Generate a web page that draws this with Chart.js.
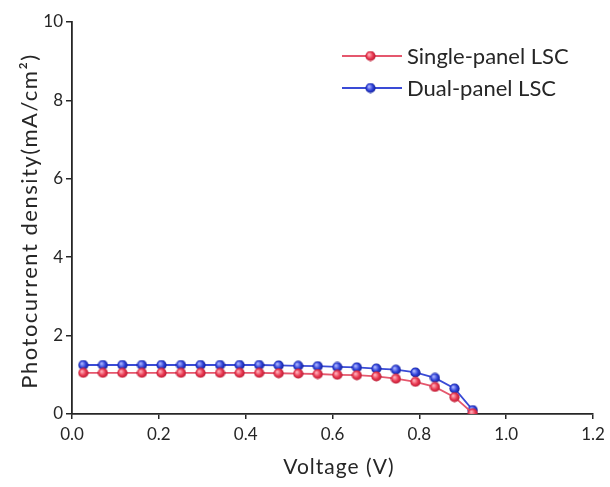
<!DOCTYPE html>
<html>
<head>
<meta charset="utf-8">
<script src="https://cdn.jsdelivr.net/npm/chart.js@4"></script>
<style>
  html, body { margin: 0; padding: 0; background: #fff; }
  #wrap { width: 610px; height: 487px; }
</style>
</head>
<body>
<div id="wrap"><canvas id="jvChart" width="610" height="487"></canvas></div>
<script>
// values
const voltage = [0.026, 0.071, 0.116, 0.161, 0.206, 0.251, 0.296, 0.341, 0.386, 0.431, 0.476,
  0.521, 0.566, 0.611, 0.656, 0.701, 0.746, 0.791, 0.836, 0.881, 0.923];
const singlePanel = [1.05, 1.05, 1.05, 1.05, 1.05, 1.05, 1.05, 1.05, 1.05, 1.05, 1.04,
  1.03, 1.02, 1.00, 0.99, 0.96, 0.90, 0.82, 0.69, 0.43, 0.02];
const dualPanel = [1.25, 1.25, 1.25, 1.25, 1.25, 1.25, 1.25, 1.25, 1.25, 1.25, 1.24,
  1.23, 1.22, 1.20, 1.19, 1.16, 1.13, 1.06, 0.92, 0.65, 0.10];
const seriesNames = ['Single-panel LSC', 'Dual-panel LSC'];
const xTicks = [0.0, 0.2, 0.4, 0.6, 0.8, 1.0, 1.2];
const yTicks = [0, 2, 4, 6, 8, 10];
const xTitle = 'Voltage (V)';
const yTitle = 'Photocurrent density(mA/cm²)';

const FONT = 'Lato, "Open Sans", sans-serif';
const INK = '#262626';
const RED = '#e5576d';
const BLUE = '#3a4bd6';

// little shaded balls for the markers
function ball(base, light, dark) {
  const c = document.createElement('canvas');
  c.width = 11; c.height = 11;
  const g = c.getContext('2d');
  const grad = g.createRadialGradient(4, 4, 0.5, 5.5, 5.5, 5.5);
  grad.addColorStop(0, light);
  grad.addColorStop(0.55, base);
  grad.addColorStop(1, dark);
  g.fillStyle = grad;
  g.beginPath();
  g.arc(5.5, 5.5, 5.1, 0, Math.PI * 2);
  g.fill();
  return c;
}
const redBall = ball('#e8364f', '#ffb0ba', '#b01830');
const blueBall = ball('#2d3fd6', '#a8b2ff', '#101e90');

function pts(xs, ys) {
  return xs.map((x, i) => ({ x: x, y: ys[i] }));
}

// legend and axis titles drawn by hand (the titles are spaced a bit wider)
const extras = {
  id: 'extras',
  afterDraw(chart) {
    const c = chart.ctx;
    const rows = [
      { text: seriesNames[0], color: RED, img: redBall, y: 56 },
      { text: seriesNames[1], color: BLUE, img: blueBall, y: 88 }
    ];
    c.save();
    c.font = '22px ' + FONT;
    c.textBaseline = 'middle';
    c.fillStyle = INK;
    rows.forEach(r => {
      c.strokeStyle = r.color;
      c.lineWidth = 1.8;
      c.beginPath();
      c.moveTo(342, r.y);
      c.lineTo(402, r.y);
      c.stroke();
      c.drawImage(r.img, 365, r.y - 5.5);
      c.fillText(r.text, 407, r.y + 1);
    });

    const area = chart.chartArea;
    c.textAlign = 'center';
    c.font = '21px ' + FONT;
    c.letterSpacing = '1px';
    c.fillText(xTitle, 339, 467);

    c.font = '22px ' + FONT;
    c.letterSpacing = '1.5px';
    c.translate(30, (area.top + area.bottom) / 2 + 3);
    c.rotate(-Math.PI / 2);
    c.fillText(yTitle, 0, 0);
    c.restore();
  }
};

new Chart(document.getElementById('jvChart'), {
  type: 'scatter',
  data: {
    datasets: [
      {
        label: seriesNames[0],
        data: pts(voltage, singlePanel),
        showLine: true,
        borderColor: RED,
        borderWidth: 1.8,
        pointStyle: redBall,
        pointRadius: 5.5
      },
      {
        label: seriesNames[1],
        data: pts(voltage, dualPanel),
        showLine: true,
        borderColor: BLUE,
        borderWidth: 1.8,
        pointStyle: blueBall,
        pointRadius: 5.5
      }
    ]
  },
  options: {
    responsive: false,
    animation: false,
    layout: { padding: { left: 0, right: 17, top: 22, bottom: 0 } },
    plugins: {
      legend: { display: false },
      tooltip: { enabled: false }
    },
    scales: {
      x: {
        type: 'linear',
        min: 0, max: 1.2,
        afterBuildTicks: s => { s.ticks = xTicks.map(v => ({ value: v })); },
        afterFit: s => { s.height = 73; },
        grid: { drawOnChartArea: false, tickLength: 5, color: INK, lineWidth: 1.5 },
        border: { color: INK, width: 1.8 },
        ticks: {
          color: INK, padding: 5,
          font: { family: FONT, size: 17 },
          callback: v => v.toFixed(1)
        }
      },
      y: {
        type: 'linear',
        min: 0, max: 10,
        afterBuildTicks: s => { s.ticks = yTicks.map(v => ({ value: v })); },
        afterFit: s => { s.width = 72; },
        grid: { drawOnChartArea: false, tickLength: 6, color: INK, lineWidth: 1.5 },
        border: { color: INK, width: 1.8 },
        ticks: {
          color: INK, padding: 3,
          font: { family: FONT, size: 17 }
        }
      }
    }
  },
  plugins: [extras]
});
</script>
</body>
</html>
